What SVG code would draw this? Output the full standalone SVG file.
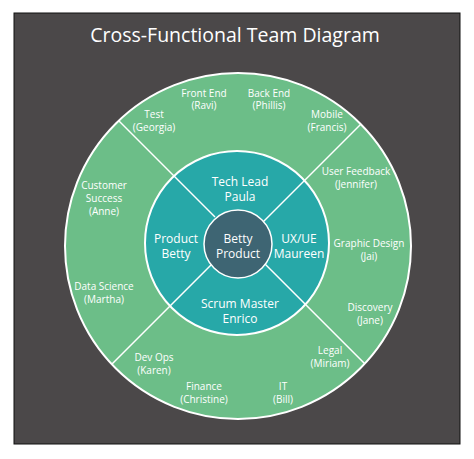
<svg xmlns="http://www.w3.org/2000/svg" width="474" height="459" viewBox="0 0 474 459">
<style>
.t{font-family:"Open Sans","Noto Sans",sans-serif;fill:#fff;text-anchor:middle}
.o{font-size:10px}
.i{font-size:12px}
.ring{stroke:#fff;stroke-width:2}
</style>
<rect x="0" y="0" width="474" height="459" fill="#fff"/>
<rect x="14" y="13" width="446" height="431" fill="#4b4849" stroke="#111" stroke-width="1"/>
<text class="t" x="235" y="42" font-size="19.5">Cross-Functional Team Diagram</text>
<g id="outer-ring">
<circle cx="238" cy="246" r="173" fill="#6cbe88" class="ring"/>
</g>
<g id="inner-ring">
<circle cx="237" cy="243" r="92" fill="#27a8a8" class="ring" stroke-width="1.5"/>
</g>
<g id="connectors" stroke="#fff" stroke-width="1.5">
<line x1="215" y1="217" x2="118.5" y2="120.5"/>
<line x1="262" y1="223" x2="361" y2="124"/>
<line x1="262" y1="261" x2="364.8" y2="363.8"/>
<line x1="214" y1="262" x2="111.8" y2="364.2"/>
</g>
<g id="center">
<circle cx="238" cy="244" r="34" fill="#3e6573" stroke="#fff" stroke-width="1.5"/>
<text class="t i" x="238" y="243">Betty</text>
<text class="t i" x="238" y="258">Product</text>
</g>
<g id="tech-lead"><text class="t i" x="240" y="186">Tech Lead</text><text class="t i" x="240" y="201">Paula</text></g>
<g id="product"><text class="t i" x="176" y="243">Product</text><text class="t i" x="176" y="258">Betty</text></g>
<g id="ux"><text class="t i" x="299" y="243">UX/UE</text><text class="t i" x="299" y="258">Maureen</text></g>
<g id="scrum"><text class="t i" x="240" y="308">Scrum Master</text><text class="t i" x="240" y="323">Enrico</text></g>
<g id="test"><text class="t o" x="154" y="118">Test</text><text class="t o" x="154" y="131">(Georgia)</text></g>
<g id="front-end"><text class="t o" x="204" y="97">Front End</text><text class="t o" x="204" y="109">(Ravi)</text></g>
<g id="back-end"><text class="t o" x="269" y="97">Back End</text><text class="t o" x="269" y="109">(Phillis)</text></g>
<g id="mobile"><text class="t o" x="327" y="118">Mobile</text><text class="t o" x="327" y="131">(Francis)</text></g>
<g id="user-feedback"><text class="t o" x="356" y="175">User Feedback</text><text class="t o" x="356" y="188">(Jennifer)</text></g>
<g id="graphic-design"><text class="t o" x="369" y="247">Graphic Design</text><text class="t o" x="369" y="260">(Jai)</text></g>
<g id="discovery"><text class="t o" x="370" y="311">Discovery</text><text class="t o" x="370" y="324">(Jane)</text></g>
<g id="legal"><text class="t o" x="330" y="354">Legal</text><text class="t o" x="330" y="367">(Miriam)</text></g>
<g id="it"><text class="t o" x="283" y="390">IT</text><text class="t o" x="283" y="403">(Bill)</text></g>
<g id="finance"><text class="t o" x="204" y="390">Finance</text><text class="t o" x="204" y="403">(Christine)</text></g>
<g id="dev-ops"><text class="t o" x="154" y="361">Dev Ops</text><text class="t o" x="154" y="374">(Karen)</text></g>
<g id="data-science"><text class="t o" x="104" y="290">Data Science</text><text class="t o" x="104" y="303">(Martha)</text></g>
<g id="customer-success"><text class="t o" x="104" y="189">Customer</text><text class="t o" x="104" y="202">Success</text><text class="t o" x="104" y="215">(Anne)</text></g>
</svg>
